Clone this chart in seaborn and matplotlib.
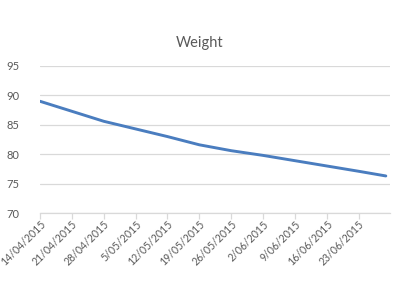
import matplotlib
matplotlib.use("Agg")
import matplotlib.pyplot as plt
import matplotlib.dates as mdates
import seaborn as sns
import pandas as pd

dates = ["2015-04-14", "2015-04-21", "2015-04-28", "2015-05-05", "2015-05-12",
         "2015-05-19", "2015-05-26", "2015-06-02", "2015-06-09", "2015-06-16",
         "2015-06-23", "2015-06-29"]
weights = [89.0, 87.3, 85.6, 84.3, 83.0, 81.6, 80.6, 79.8, 78.9, 78.0, 77.1, 76.3]
title = "Weight"
y_ticks = [70, 75, 80, 85, 90, 95]

df = pd.DataFrame({"date": pd.to_datetime(dates), "weight": weights})

sns.set_theme(style="white")
plt.rcParams["font.family"] = ["Lato", "DejaVu Sans"]

fig = plt.figure(figsize=(4, 3), dpi=100)
ax = fig.add_axes([0.1, 0.29, 0.875, 0.49])

sns.lineplot(data=df, x="date", y="weight", ax=ax, color="#4a7dbf", linewidth=2.1)

ax.set_ylim(70, 95)
ax.set_yticks(y_ticks)
ax.set_xlim(pd.Timestamp("2015-04-14"), pd.Timestamp("2015-06-29 22:00"))
ax.xaxis.set_major_locator(mdates.WeekdayLocator(byweekday=mdates.TU))
ax.xaxis.set_major_formatter(mdates.DateFormatter("%-d/%m/%Y"))

ax.grid(axis="y", color="#d9d9d9", linewidth=0.9)
ax.set_axisbelow(True)
for s in ["left", "right", "top"]:
    ax.spines[s].set_visible(False)
ax.spines["bottom"].set_color("#d9d9d9")
ax.spines["bottom"].set_linewidth(0.9)

ax.tick_params(axis="x", which="major", bottom=True, length=4, width=0.9,
               color="#d9d9d9", labelsize=7.6, labelcolor="#595959", pad=0)
ax.tick_params(axis="y", left=False, labelsize=8, labelcolor="#595959", pad=9)
for lbl in ax.get_xticklabels():
    lbl.set_rotation(45)
    lbl.set_ha("right")
    lbl.set_rotation_mode("anchor")

ax.set_xlabel("")
ax.set_ylabel("")
fig.text(0.5, 0.855, title, ha="center", va="center", fontsize=10.5, color="#595959")

fig.savefig("out.png", dpi=100, facecolor="white")
